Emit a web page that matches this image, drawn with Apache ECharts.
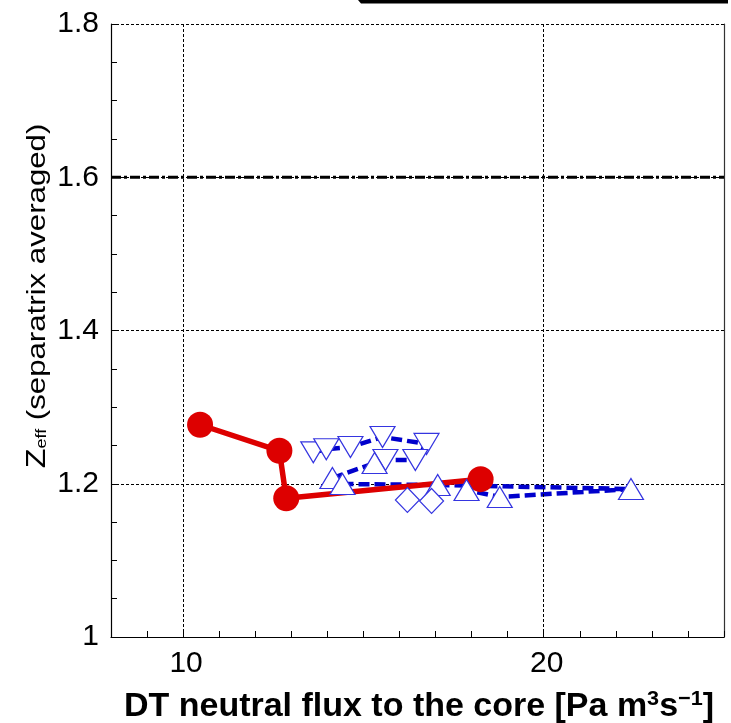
<!DOCTYPE html>
<html>
<head>
<meta charset="utf-8">
<script src="https://cdn.jsdelivr.net/npm/echarts@6/dist/echarts.min.js"></script>
<style>
  html, body { margin: 0; padding: 0; background: #fff; }
  #chart { width: 731px; height: 723px; }
</style>
</head>
<body>
<div id="chart"></div>
<script>
// Separatrix-averaged Z_eff versus DT neutral flux to the core

// Red scan (filled circles, solid line)
const redFlux = [10.47, 12.67, 12.86, 18.25];
const redZeff = [1.277, 1.243, 1.181, 1.206];

// Blue scan, downward triangles (dashed path)
const downFlux = [13.61, 13.97, 14.64, 15.53, 16.75, 16.44, 15.61];
const downZeff = [1.241, 1.245, 1.248, 1.261, 1.252, 1.231, 1.231];

// Blue scan, upward triangles (two dashed paths)
const upAFlux = [14.14, 15.31];
const upAZeff = [1.2075, 1.2271];
const upBFlux = [14.42, 17.06, 22.42, 18.78, 17.86];
const upBZeff = [1.1997, 1.1984, 1.1931, 1.1827, 1.1918];

// Blue scan, diamonds
const diamondFlux = [16.22, 16.89];
const diamondZeff = [1.1788, 1.1775];

// Reference level and axes
const limitZeff = 1.6;
const xRange = [8, 25];
const yRange = [1.0, 1.8];
const xLabelValues = [10, 20];
const xGridValues = [10, 20];
const yLabelValues = [1.0, 1.2, 1.4, 1.6, 1.8];

const FONT = '"Liberation Sans", Arial, Helvetica, sans-serif';
const zip = (xs, ys) => xs.map((x, i) => [x, ys[i]]);

const blueLine = '#0000cc';
const blueEdge = '#3535e0';
const dashedBlue = { color: blueLine, width: 4.5, type: [11, 5], opacity: 1 };
const hollowBlue = { color: '#ffffff', borderColor: blueEdge, borderWidth: 1.2, opacity: 1 };

const chart = echarts.init(document.getElementById('chart'), null, { renderer: 'canvas' });

chart.setOption({
  animation: false,
  backgroundColor: '#ffffff',
  grid: { left: 111, right: 7, top: 24, bottom: 86, containLabel: false },
  xAxis: {
    type: 'value',
    min: xRange[0], max: xRange[1], interval: 1,
    axisLine: { show: true, onZero: false, lineStyle: { color: '#000', width: 1.2 } },
    axisTick: { show: true, inside: true, length: 6, lineStyle: { color: '#000', width: 1 } },
    axisLabel: {
      show: true, margin: 12, color: '#000', fontFamily: FONT, fontSize: 30,
      padding: [0, 0, 0, 6],
      formatter: v => (xLabelValues.indexOf(Math.round(v)) >= 0 && Math.abs(v - Math.round(v)) < 1e-6) ? String(Math.round(v)) : ''
    },
    splitLine: { show: false }
  },
  yAxis: [{
    type: 'value',
    min: yRange[0], max: yRange[1], interval: 0.2,
    axisLine: { show: true, onZero: false, lineStyle: { color: '#000', width: 1.2 } },
    axisTick: { show: true, inside: true, length: 7, lineStyle: { color: '#000', width: 1 } },
    minorTick: { show: true, splitNumber: 4, length: 6, lineStyle: { color: '#000', width: 1 } },
    axisLabel: {
      show: true, margin: 12, color: '#000', fontFamily: FONT, fontSize: 30,
      formatter: v => yLabelValues.some(t => Math.abs(t - v) < 1e-6) ? String(+v.toFixed(1)) : ''
    },
    splitLine: { show: true, lineStyle: { color: '#000', width: 1, type: [3, 2] } }
  }, {
    type: 'value', position: 'right',
    min: yRange[0], max: yRange[1],
    axisLine: { show: true, onZero: false, lineStyle: { color: '#333', width: 1.2 } },
    axisTick: { show: false }, axisLabel: { show: false }, splitLine: { show: false }
  }],
  series: [
    {
      // Z_eff reference level, plus vertical grid lines
      type: 'line', z: 1,
      data: [[xRange[0], limitZeff], [xRange[1], limitZeff]],
      symbol: 'none', silent: true,
      lineStyle: { color: '#000', width: 3, type: [10, 3, 3, 3] },
      markLine: {
        silent: true, symbol: ['none', 'none'], label: { show: false },
        lineStyle: { color: '#000', width: 1, type: [3, 2] },
        data: xGridValues.map(v => ({ xAxis: v }))
      }
    },
    {
      type: 'line', z: 2, symbol: 'none', silent: true,
      data: zip(downFlux, downZeff), lineStyle: dashedBlue
    },
    {
      type: 'line', z: 2, symbol: 'none', silent: true,
      data: zip(upAFlux, upAZeff), lineStyle: dashedBlue
    },
    {
      type: 'line', z: 2, symbol: 'none', silent: true,
      data: zip(upBFlux, upBZeff), lineStyle: dashedBlue
    },
    {
      type: 'line', z: 3,
      data: zip(redFlux, redZeff),
      symbol: 'circle', symbolSize: 26,
      itemStyle: { color: '#dd0000', opacity: 1 },
      lineStyle: { color: '#dd0000', width: 5.5 }
    },
    {
      type: 'scatter', z: 4,
      data: zip(downFlux, downZeff),
      symbol: 'triangle', symbolRotate: 180, symbolSize: [25, 21],
      itemStyle: hollowBlue
    },
    {
      type: 'scatter', z: 4,
      data: zip(upAFlux, upAZeff).concat(zip(upBFlux, upBZeff)),
      symbol: 'triangle', symbolSize: [25, 21],
      itemStyle: hollowBlue
    },
    {
      type: 'scatter', z: 4,
      data: zip(diamondFlux, diamondZeff),
      symbol: 'diamond', symbolSize: [24, 25],
      itemStyle: hollowBlue
    }
  ],
  graphic: [
    {
      // edge of the key box along the top
      type: 'polygon', z: 10,
      shape: { points: [[358, 0], [728, 0], [728, 3.5], [361, 3.5]] },
      style: { fill: '#000' }
    },
    {
      type: 'text', z: 10,
      x: 38, y: 296, rotation: Math.PI / 2, scaleX: 1.2,
      style: {
        text: '{z|Z}{sub|eff}{t| (separatrix averaged)}',
        align: 'center', verticalAlign: 'middle',
        fill: '#000',
        rich: {
          z: { fontFamily: FONT, fontSize: 27, lineHeight: 30, fill: '#000' },
          sub: { fontFamily: FONT, fontSize: 15, lineHeight: 30, verticalAlign: 'bottom', fill: '#000', padding: [0, 0, 4, 0] },
          t: { fontFamily: FONT, fontSize: 26, lineHeight: 30, fill: '#000' }
        }
      }
    },
    {
      type: 'text', z: 10,
      x: 419, y: 707, scaleX: 1.03,
      style: {
        text: '{b|DT neutral flux to the core [Pa m}{p|3}{b|s}{p|\u22121}{b|]}',
        align: 'center', verticalAlign: 'middle',
        fill: '#000',
        rich: {
          b: { fontFamily: FONT, fontSize: 33, fontWeight: 'bold', lineHeight: 36, fill: '#000' },
          p: { fontFamily: FONT, fontSize: 21, fontWeight: 'bold', lineHeight: 22, verticalAlign: 'top', fill: '#000' }
        }
      }
    }
  ]
});
</script>
</body>
</html>
